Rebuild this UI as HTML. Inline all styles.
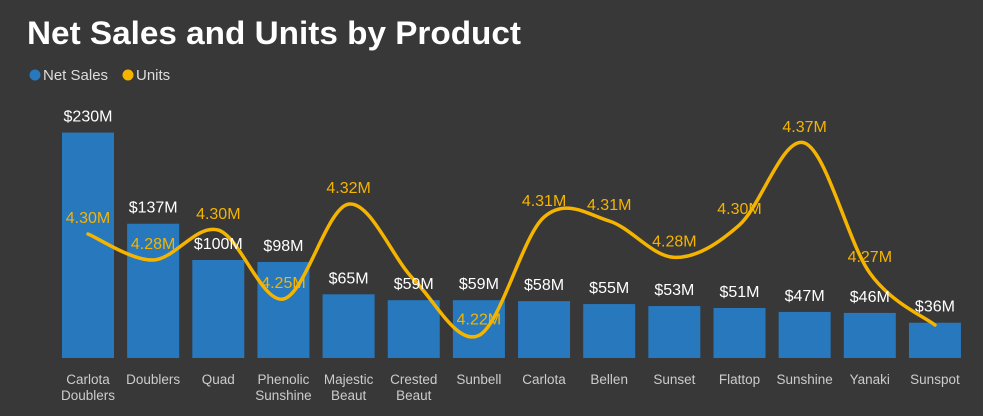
<!DOCTYPE html>
<html><head><meta charset="utf-8"><style>
body{margin:0;background:#383838;width:983px;height:411px;overflow:hidden;font-family:"Liberation Sans",sans-serif}
</style></head><body>
<svg width="983" height="411">
<text x="27" y="44" fill="#fff" font-size="32" font-weight="bold" textLength="494" lengthAdjust="spacingAndGlyphs">Net Sales and Units by Product</text>
<g>
<circle cx="35" cy="75" r="5.5" fill="#2878be"/>
<text x="43" y="80" fill="#ddd" font-size="15">Net Sales</text>
<circle cx="128" cy="75" r="5.5" fill="#f5b400"/>
<text x="136" y="80" fill="#ddd" font-size="15">Units</text>
</g>
<g id="bars"></g><g id="cats"></g><path id="line" fill="none" stroke="#f5b400" stroke-width="3.5" stroke-linecap="round"/><g id="labels"></g>
</svg>
<script>
const categories=[["Carlota","Doublers"],["Doublers"],["Quad"],["Phenolic","Sunshine"],["Majestic","Beaut"],["Crested","Beaut"],["Sunbell"],["Carlota"],["Bellen"],["Sunset"],["Flattop"],["Sunshine"],["Yanaki"],["Sunspot"]];
const netSales=[230,137,100,98,65,59,59,58,55,53,51,47,46,36];
const units=[4.30,4.28,4.303,4.25,4.323,4.265,4.222,4.313,4.31,4.282,4.307,4.37,4.27,4.23];
const salesLabels=["$230M","$137M","$100M","$98M","$65M","$59M","$59M","$58M","$55M","$53M","$51M","$47M","$46M","$36M"];
const unitLabels=["4.30M","4.28M","4.30M","4.25M","4.32M","","4.22M","4.31M","4.31M","4.28M","4.30M","4.37M","4.27M",""];
const NS="http://www.w3.org/2000/svg";
const xC=i=>88+i*65.15;
const yS=v=>358-v*0.98;
const yU=v=>143+(4.37-v)*1300;
function mk(t,a,p){const e=document.createElementNS(NS,t);for(const k in a)e.setAttribute(k,a[k]);p.appendChild(e);return e;}
const bars=document.getElementById('bars'),cats=document.getElementById('cats'),labels=document.getElementById('labels');
netSales.forEach((v,i)=>{
 const r=mk('rect',{x:xC(i)-26,y:yS(v),width:52,height:358-yS(v),fill:'#2878be'},bars);
 
 
 const t=mk('text',{x:xC(i),y:yS(v)-11,fill:'#fff','font-size':16,'text-anchor':'middle'},labels);
 t.textContent=salesLabels[i];
 
 
 categories[i].forEach((l,j)=>{
  const c=mk('text',{x:xC(i),y:384+j*16,fill:'#ccc','font-size':13.5,'text-anchor':'middle'},cats);
  c.textContent=l;
  
  
 });
});
const pts=units.map((v,i)=>[xC(i),yU(v)]);
let d='M'+pts[0][0]+','+pts[0][1];
for(let i=0;i<pts.length-1;i++){
 const p0=pts[i-1]||pts[i],p1=pts[i],p2=pts[i+1],p3=pts[i+2]||p2;
 const c1=[p1[0]+(p2[0]-p0[0])/6,p1[1]+(p2[1]-p0[1])/6],c2=[p2[0]-(p3[0]-p1[0])/6,p2[1]-(p3[1]-p1[1])/6];
 d+=' C'+c1+' '+c2+' '+p2;
}
document.getElementById('line').setAttribute('d',d);
units.forEach((v,i)=>{
 if(!unitLabels[i])return;
 const t=mk('text',{x:xC(i),y:yU(v)-11,fill:'#f5b400','font-size':16,'text-anchor':'middle'},labels);
 t.textContent=unitLabels[i];
 
 
});
</script>
</body></html>
